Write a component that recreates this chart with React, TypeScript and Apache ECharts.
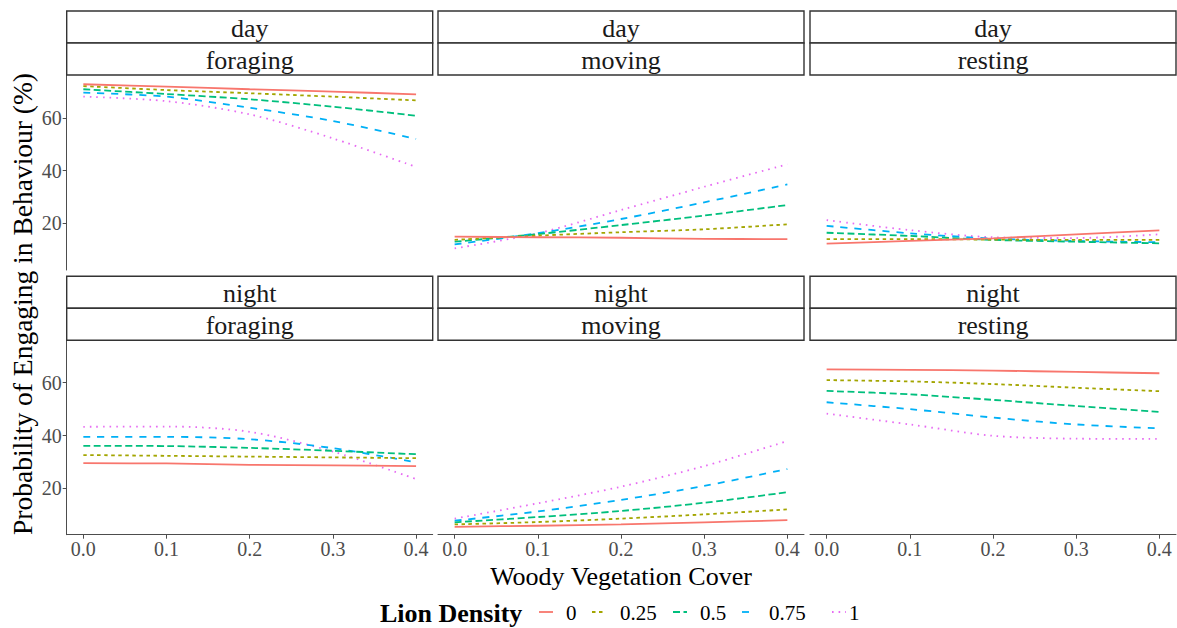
import React, { useEffect, useRef } from "react";
import * as echarts from "echarts";

// ---- data ----
const xs = [0, 0.1, 0.2, 0.3, 0.4];
const densities = ["0", "0.25", "0.5", "0.75", "1"];
const xTicks = [0, 0.1, 0.2, 0.3, 0.4];
const yTicks = [20, 40, 60];

// rows: density 0, 0.25, 0.5, 0.75, 1 ; columns: xs
const dayForaging = [
  [72.7, 71.8, 70.8, 69.9, 68.9],
  [72.0, 70.5, 69.3, 68.0, 66.6],
  [70.8, 69.0, 67.0, 64.2, 60.8],
  [69.5, 68.0, 63.8, 58.8, 52.0],
  [68.0, 66.3, 61.3, 52.2, 41.4],
];
const dayMoving = [
  [15.0, 14.8, 14.6, 14.2, 14.1],
  [13.8, 15.4, 16.7, 17.8, 19.7],
  [13.1, 16.0, 19.4, 23.0, 27.0],
  [12.1, 16.3, 21.7, 28.0, 34.8],
  [10.6, 16.3, 25.1, 33.9, 42.4],
];
const dayResting = [
  [12.4, 13.4, 14.4, 15.9, 17.4],
  [14.1, 14.1, 13.9, 13.8, 13.8],
  [16.5, 15.3, 13.8, 13.1, 12.5],
  [19.1, 16.3, 14.3, 13.4, 12.9],
  [21.3, 17.5, 14.8, 14.5, 15.9],
];
const nightForaging = [
  [29.5, 29.4, 28.9, 28.7, 28.4],
  [32.6, 32.3, 32.0, 31.7, 31.4],
  [36.1, 36.0, 35.3, 34.2, 32.9],
  [39.5, 39.5, 38.6, 35.2, 29.8],
  [43.3, 43.4, 41.4, 33.9, 23.5],
];
const nightMoving = [
  [5.4, 5.8, 6.3, 7.1, 7.9],
  [6.3, 7.2, 8.5, 10.1, 12.0],
  [7.1, 9.1, 11.4, 14.5, 18.5],
  [7.7, 11.2, 15.6, 20.9, 27.3],
  [8.5, 14.3, 20.6, 28.4, 37.9],
];
const nightResting = [
  [65.1, 64.9, 64.6, 64.1, 63.6],
  [61.0, 60.5, 59.5, 58.1, 56.8],
  [56.9, 55.6, 53.5, 51.2, 48.9],
  [52.6, 50.0, 46.8, 44.2, 42.7],
  [48.3, 44.2, 39.9, 38.8, 38.7],
];

const panels = [
  { time: "day", beh: "foraging", values: dayForaging },
  { time: "day", beh: "moving", values: dayMoving },
  { time: "day", beh: "resting", values: dayResting },
  { time: "night", beh: "foraging", values: nightForaging },
  { time: "night", beh: "moving", values: nightMoving },
  { time: "night", beh: "resting", values: nightResting },
];

// ---- styles ----
const COLORS = ["#F8766D", "#A3A500", "#00BF7D", "#00B0F6", "#E76BF3"];
const DASHES: any[] = ["solid", [3.5, 3.5], [7, 3.5], [7, 7], [1.6, 5]];
const FONT = '"Liberation Serif", "Times New Roman", serif';

const colLeft = [66.7, 438, 810];
const panelW = 366;
const rowTop = [75, 340];
const panelH = [195, 194.7];
const stripTop = [11, 276.3];
const stripH = 32;
const legendKeyX = [539, 592, 673, 742, 832];
const legendTextX = [566, 620, 700, 769, 849];

export default function App() {
  const ref = useRef<HTMLDivElement>(null);
  useEffect(() => {
    if (!ref.current) return;
    const chart = echarts.init(ref.current, null, { renderer: "svg" });

    const grids: any[] = [];
    const xAxes: any[] = [];
    const yAxes: any[] = [];
    const series: any[] = [];
    const graphics: any[] = [];

    panels.forEach((p, i) => {
      const r = Math.floor(i / 3);
      const c = i % 3;
      grids.push({
        left: colLeft[c],
        top: rowTop[r],
        width: panelW,
        height: panelH[r],
        containLabel: false,
      });
      xAxes.push({
        type: "value",
        gridIndex: i,
        min: -0.02,
        max: 0.42,
        show: r === 1,
        splitLine: { show: false },
        axisLine: { show: true, onZero: false, lineStyle: { color: "#4d4d4d", width: 1 } },
        axisTick: {
          show: true,
          length: 4,
          customValues: xTicks,
          lineStyle: { color: "#4d4d4d" },
        },
        axisLabel: {
          customValues: xTicks,
          formatter: (v: number) => v.toFixed(1),
          color: "#4d4d4d",
          fontSize: 20,
          fontFamily: FONT,
          margin: 4,
          lineHeight: 20,
        },
      });
      yAxes.push({
        type: "value",
        gridIndex: i,
        min: 2.4,
        max: 76.2,
        show: c === 0,
        splitLine: { show: false },
        axisLine: { show: true, onZero: false, lineStyle: { color: "#4d4d4d", width: 1 } },
        axisTick: {
          show: true,
          length: 4,
          customValues: yTicks,
          lineStyle: { color: "#4d4d4d" },
        },
        axisLabel: {
          customValues: yTicks,
          color: "#4d4d4d",
          fontSize: 20,
          fontFamily: FONT,
          margin: 5,
        },
      });
      p.values.forEach((vals, d) => {
        series.push({
          type: "line",
          name: densities[d],
          xAxisIndex: i,
          yAxisIndex: i,
          data: xs.map((x, k) => [x, vals[k]]),
          symbol: "none",
          showSymbol: false,
          smooth: 0.3,
          lineStyle: { color: COLORS[d], width: 1.8, type: DASHES[d] },
          itemStyle: { color: COLORS[d] },
          z: 10 - d,
        });
      });
      // strips
      const labels = [p.time, p.beh];
      labels.forEach((t, k) => {
        const y0 = stripTop[r] + k * stripH;
        graphics.push({
          type: "rect",
          shape: { x: colLeft[c], y: y0, width: panelW, height: stripH },
          style: { fill: "#ffffff", stroke: "#333333", lineWidth: 1.4 },
          z: 5,
        });
        graphics.push({
          type: "text",
          x: colLeft[c] + panelW / 2,
          y: y0 + stripH / 2 + 1,
          style: {
            text: t,
            align: "center",
            verticalAlign: "middle",
            fontSize: 26,
            fontFamily: FONT,
            fill: "#1a1a1a",
          },
          z: 6,
        });
      });
    });

    graphics.push({
      type: "text",
      x: 22,
      y: 304,
      rotation: Math.PI / 2,
      style: {
        text: "Probability of Engaging in Behaviour (%)",
        align: "center",
        verticalAlign: "middle",
        fontSize: 27.5,
        fontFamily: FONT,
        fill: "#000000",
      },
    });
    graphics.push({
      type: "text",
      x: 621,
      y: 576,
      style: {
        text: "Woody Vegetation Cover",
        align: "center",
        verticalAlign: "middle",
        fontSize: 26,
        lineHeight: 26,
        fontFamily: FONT,
        fill: "#000000",
      },
    });
    graphics.push({
      type: "text",
      x: 380,
      y: 613,
      style: {
        text: "Lion Density",
        align: "left",
        verticalAlign: "middle",
        fontSize: 26,
        fontWeight: "bold",
        fontFamily: FONT,
        fill: "#000000",
      },
    });
    // legend keys
    densities.forEach((name, d) => {
      graphics.push({
        type: "line",
        shape: { x1: legendKeyX[d], y1: 612, x2: legendKeyX[d] + 14, y2: 612 },
        style: {
          stroke: COLORS[d],
          lineWidth: 1.8,
          lineDash: DASHES[d] === "solid" ? null : DASHES[d],
        },
      });
      graphics.push({
        type: "text",
        x: legendTextX[d],
        y: 613,
        style: {
          text: name,
          align: "left",
          verticalAlign: "middle",
          fontSize: 21,
          fontFamily: FONT,
          fill: "#000000",
        },
      });
    });

    chart.setOption({
      animation: false,
      backgroundColor: "#ffffff",
      grid: grids,
      xAxis: xAxes,
      yAxis: yAxes,
      series,
      graphic: graphics,
    });
    return () => chart.dispose();
  }, []);
  return (
    <div
      ref={ref}
      style={{ position: "fixed", left: 0, top: 0, width: 1177, height: 628 }}
    />
  );
}
